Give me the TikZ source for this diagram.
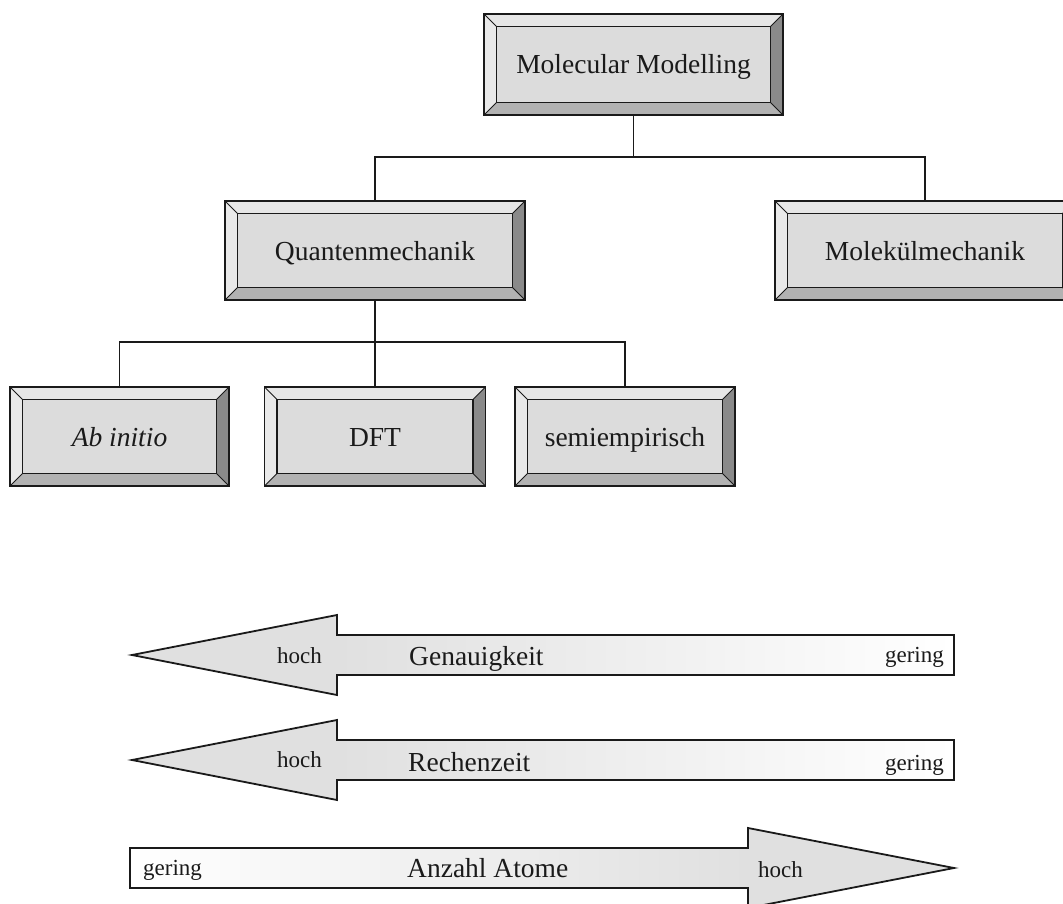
\documentclass[tikz,border=0pt]{standalone}
\usepackage{fontspec}
\setmainfont{Liberation Serif}
\definecolor{face}{HTML}{DCDCDC}
\definecolor{bvtop}{HTML}{E6E6E6}
\definecolor{bvleft}{HTML}{E9E9E9}
\definecolor{bvright}{HTML}{8A8A8A}
\definecolor{bvbottom}{HTML}{B2B2B2}
\definecolor{headfill}{HTML}{E0E0E0}
\definecolor{ink}{HTML}{1A1A1A}
\tikzset{
  bbox/.style={fill=face, draw=none, inner sep=0pt, outer sep=0pt,
    minimum height=100pt, text height=22pt, text depth=3pt,
    font=\fontsize{27.5}{33}\selectfont, text=ink},
  rim/.style={draw=ink, line width=1.9pt, line join=miter},
  diag/.style={draw=ink, line width=1pt},
  conn/.style={draw=ink, line width=1.5pt},
  arrowline/.style={draw=ink, line width=1.8pt, line join=miter},
  biglab/.style={inner sep=0pt, font=\fontsize{27.5}{33}\selectfont, text=ink},
  smalllab/.style={inner sep=0pt, font=\fontsize{23}{28}\selectfont, text=ink}
}
\newcommand\bevelit[1]{%
  \coordinate (o1) at (#1.north west);
  \coordinate (o2) at (#1.north east);
  \coordinate (o3) at (#1.south east);
  \coordinate (o4) at (#1.south west);
  \coordinate (i1) at ([shift={(12.5,12.5)}]#1.north west);
  \coordinate (i2) at ([shift={(-12.5,12.5)}]#1.north east);
  \coordinate (i3) at ([shift={(-12.5,-12.5)}]#1.south east);
  \coordinate (i4) at ([shift={(12.5,-12.5)}]#1.south west);
  \fill[bvtop] (o1) -- (o2) -- (i2) -- (i1) -- cycle;
  \fill[bvright] (o2) -- (o3) -- (i3) -- (i2) -- cycle;
  \fill[bvbottom] (o3) -- (o4) -- (i4) -- (i3) -- cycle;
  \fill[bvleft] (o4) -- (o1) -- (i1) -- (i4) -- cycle;
  \draw[diag] (o1) -- (i1) (o2) -- (i2) (o3) -- (i3) (o4) -- (i4);
  \draw[rim] (i1) rectangle (i3);
  \draw[rim] (o1) rectangle (o3);
}
% left-pointing arrow: tip x, head base x, shaft end x, centre y
\newcommand\leftarrowshape[4]{%
  \fill[headfill] ({#1},{#4}) -- ({#2},{#4-40}) -- ({#2},{#4+40}) -- cycle;
  \shade[left color=headfill, right color=white] ({#2-0.5},{#4-20}) rectangle ({#3},{#4+20});
  \draw[arrowline] ({#1},{#4}) -- ({#2},{#4-40}) -- ({#2},{#4-20}) -- ({#3},{#4-20})
     -- ({#3},{#4+20}) -- ({#2},{#4+20}) -- ({#2},{#4+40}) -- cycle;
}
% right-pointing arrow: shaft start x, head base x, tip x, centre y
\newcommand\rightarrowshape[4]{%
  \fill[headfill] ({#3},{#4}) -- ({#2},{#4-40}) -- ({#2},{#4+40}) -- cycle;
  \shade[left color=white, right color=headfill] ({#1},{#4-20}) rectangle ({#2+0.5},{#4+20});
  \draw[arrowline] ({#3},{#4}) -- ({#2},{#4-40}) -- ({#2},{#4-20}) -- ({#1},{#4-20})
     -- ({#1},{#4+20}) -- ({#2},{#4+20}) -- ({#2},{#4+40}) -- cycle;
}
\begin{document}
\begin{tikzpicture}[x=1pt,y=-1pt]
\useasboundingbox (0,0) rectangle (1063,904);
\clip (0,0) rectangle (1063,904);
\fill[white] (0,0) rectangle (1063,904);

% boxes
\node[bbox, minimum width=299pt, minimum height=101pt] (mm) at (633.5,64.5) {Molecular Modelling};
\node[bbox, minimum width=300pt, minimum height=99pt] (qm) at (375,250.5) {Quantenmechanik};
\node[bbox, minimum width=300pt, minimum height=99pt] (molm) at (925,250.5) {Molekülmechanik};
\node[bbox, minimum width=219pt, minimum height=99pt] (ab) at (119.5,436.5) {\textit{Ab initio}};
\node[bbox, minimum width=221pt, minimum height=99pt] (dft) at (375,436.5) {DFT};
\node[bbox, minimum width=220pt, minimum height=99pt] (semi) at (625,436.5) {semiempirisch};
\bevelit{mm}
\bevelit{qm}
\bevelit{molm}
\bevelit{ab}
\bevelit{dft}
\bevelit{semi}

% connectors
\draw[conn] (mm.south) -- ++(0,42) coordinate (mmj);
\draw[conn] (mmj) -| (qm.north);
\draw[conn] (mmj) -| (molm.north);
\draw[conn] (qm.south) -- ++(0,42) coordinate (qmj);
\draw[conn] (qmj) -| (ab.north);
\draw[conn] (qmj) -- (dft.north);
\draw[conn] (qmj) -| (semi.north);

% scale arrows
\leftarrowshape{132}{337}{954}{655}
\leftarrowshape{132}{337}{954}{760}
\rightarrowshape{130}{748}{954}{868}

\node[biglab, anchor=base west] (gen) at (409,665) {Genauigkeit};
\node[smalllab, anchor=base west] (genh) at (277,663) {hoch};
\node[smalllab, anchor=base east] (geng) at (944,662) {gering};

\node[biglab, anchor=base west] (rech) at (408,771) {Rechenzeit};
\node[smalllab, anchor=base west] (rechh) at (277,767) {hoch};
\node[smalllab, anchor=base east] (rechg) at (944,770) {gering};

\node[biglab, anchor=base west] (anz) at (407,877) {Anzahl Atome};
\node[smalllab, anchor=base west] (anzg) at (143,875) {gering};
\node[smalllab, anchor=base west] (anzh) at (758,877) {hoch};
\end{tikzpicture}
\end{document}
